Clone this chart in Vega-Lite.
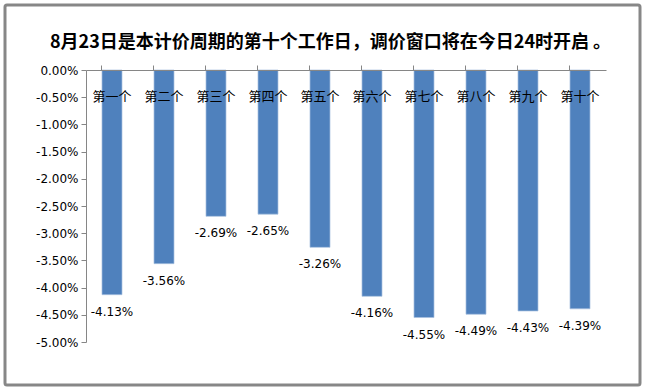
{
  "$schema": "https://vega.github.io/schema/vega-lite/v6.json",
  "width": 635,
  "height": 380,
  "padding": 5,
  "autosize": "none",
  "background": "white",
  "config": {
    "view": {"stroke": "#878787", "strokeWidth": 3, "cornerRadius": 2},
    "font": "DejaVu Sans"
  },
  "title": {
    "text": "8月23日是本计价周期的第十个工作日，调价窗口将在今日24时开启 。",
    "font": "Noto Sans CJK SC",
    "fontSize": 18,
    "fontWeight": "bold",
    "color": "#000000",
    "anchor": "middle",
    "offset": -47,
    "dx": 8
  },
  "data": {
    "values": [
      {"day": "第一个", "value": -0.0413},
      {"day": "第二个", "value": -0.0356},
      {"day": "第三个", "value": -0.0269},
      {"day": "第四个", "value": -0.0265},
      {"day": "第五个", "value": -0.0326},
      {"day": "第六个", "value": -0.0416},
      {"day": "第七个", "value": -0.0455},
      {"day": "第八个", "value": -0.0449},
      {"day": "第九个", "value": -0.0443},
      {"day": "第十个", "value": -0.0439}
    ]
  },
  "transform": [
    {"calculate": "replace(format(datum.value, '.2%'), '\u2212', '-')", "as": "label"}
  ],
  "encoding": {
    "x": {
      "field": "day",
      "type": "nominal",
      "sort": null,
      "scale": {"range": [81, 601], "paddingInner": 0.615, "paddingOuter": 0.3075},
      "axis": {
        "orient": "top",
        "offset": -65,
        "title": null,
        "labelAngle": 0,
        "labelFont": "Noto Sans CJK SC",
        "labelFontSize": 13,
        "labelColor": "#000000",
        "labelPadding": -31,
        "labelBaseline": "middle",
        "labelOverlap": false,
        "tickSize": 5,
        "bandPosition": 0,
        "tickColor": "#868686",
        "domainColor": "#868686",
        "zindex": 1
      }
    },
    "y": {
      "field": "value",
      "type": "quantitative",
      "scale": {"domain": [-0.05, 0], "range": [337, 65], "nice": false},
      "axis": {
        "offset": -81,
        "title": null,
        "values": [0, -0.005, -0.01, -0.015, -0.02, -0.025, -0.03, -0.035, -0.04, -0.045, -0.05],
        "labelExpr": "replace(format(datum.value, '.2%'), '\u2212', '-')",
        "labelOverlap": false,
        "grid": false,
        "labelFontSize": 12,
        "labelColor": "#000000",
        "labelPadding": 3,
        "tickSize": 5,
        "tickColor": "#868686",
        "domainColor": "#868686"
      }
    }
  },
  "layer": [
    {
      "mark": {"type": "bar", "color": "#4F81BD", "stroke": "#A9C1E0", "strokeWidth": 0.7}
    },
    {
      "mark": {"type": "text", "baseline": "middle", "dy": 17, "fontSize": 12, "color": "#000000", "font": "DejaVu Sans"},
      "encoding": {"text": {"field": "label", "type": "nominal"}}
    }
  ]
}
